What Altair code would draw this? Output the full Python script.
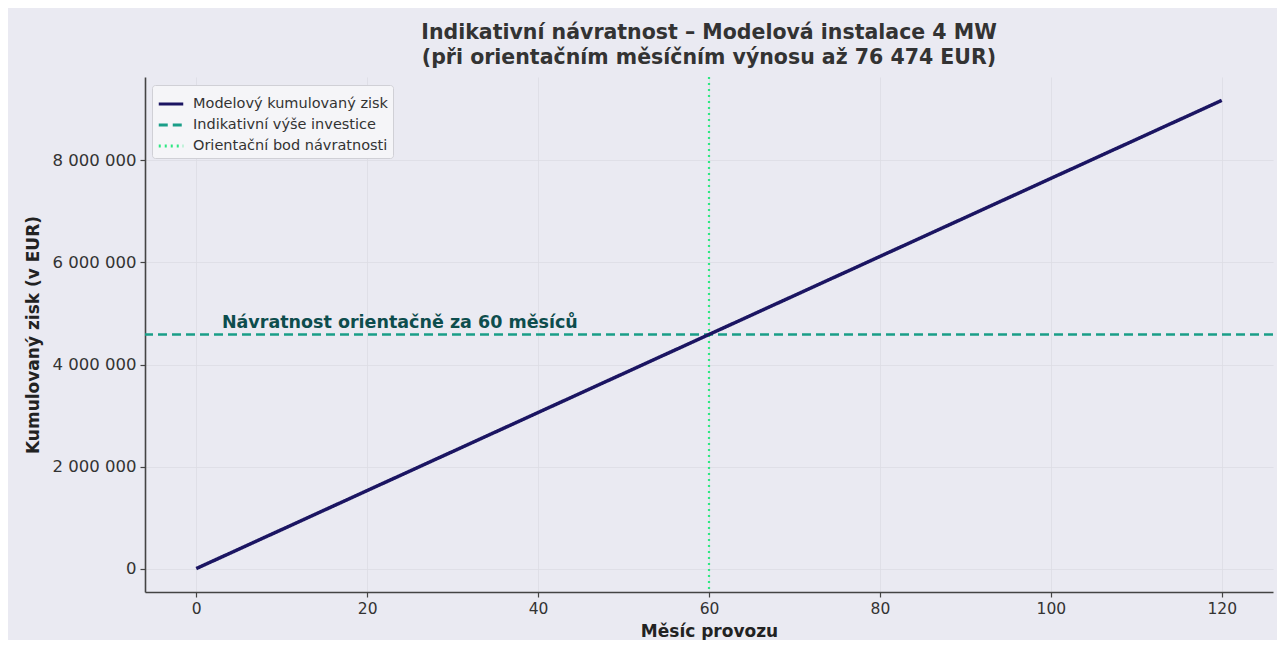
import altair as alt
import pandas as pd

# Data
months = [0, 120]
cum_profit = [0, 9176880]
investment = [4588440]
payback_month = [60]
series_names = ["Modelový kumulovaný zisk", "Indikativní výše investice", "Orientační bod návratnosti"]
series_colors = ["#1b1562", "#1a9e88", "#2ee882"]
series_dashes = [[1, 0], [9, 5], [2, 4]]
annot_text = ["Návratnost orientačně za 60 měsíců"]
annot_x = [3]
annot_y = [4720000]

line_df = pd.DataFrame({"month": months, "value": cum_profit, "series": series_names[0]})
hrule_df = pd.DataFrame({"value": investment, "series": series_names[1]})
vrule_df = pd.DataFrame({"month": payback_month, "series": series_names[2]})
text_df = pd.DataFrame({"month": annot_x, "value": annot_y, "label": annot_text})

xscale = alt.Scale(domain=[-6, 126], nice=False, zero=False)
yscale = alt.Scale(domain=[-458844, 9635724], nice=False, zero=False)

color_scale = alt.Scale(domain=series_names, range=series_colors)
dash_scale = alt.Scale(domain=series_names, range=series_dashes)

legend = alt.Legend(
    title=None, orient="none", legendX=7, legendY=8,
    symbolType="stroke", symbolStrokeWidth=3, symbolSize=600,
    labelFont="DejaVu Sans", labelFontSize=14.5, labelColor="#333333",
    fillColor="#f5f5f8", strokeColor="#d0d0d6", cornerRadius=3,
    padding=5, rowPadding=0, labelOffset=8, labelLimit=400,
)

color_enc = alt.Color("series:N", scale=color_scale, legend=legend, sort=series_names)
dash_enc = alt.StrokeDash("series:N", scale=dash_scale, legend=legend, sort=series_names)

x_axis = alt.Axis(
    title="Měsíc provozu", values=[0, 20, 40, 60, 80, 100, 120],
    titleFont="DejaVu Sans", titleFontSize=17, titleFontWeight="bold", titleColor="#222222",
    titlePadding=7,
    labelFont="DejaVu Sans", labelFontSize=15.5, labelColor="#333333", labelPadding=4,
    grid=True, gridColor="#dcdce3", gridWidth=0.8,
    domain=True, domainColor="#444444", domainWidth=1.6,
    ticks=True, tickColor="#444444", tickSize=5, tickWidth=1.2,
)
y_axis = alt.Axis(
    title="Kumulovaný zisk (v EUR)", values=[0, 2000000, 4000000, 6000000, 8000000],
    labelExpr="replace(format(datum.value, ','), regexp(',', 'g'), ' ')",
    titleFont="DejaVu Sans", titleFontSize=17, titleFontWeight="bold", titleColor="#222222",
    titlePadding=10,
    labelFont="DejaVu Sans", labelFontSize=16.5, labelColor="#333333", labelPadding=4,
    grid=True, gridColor="#dcdce3", gridWidth=0.8,
    domain=True, domainColor="#444444", domainWidth=1.6,
    ticks=True, tickColor="#444444", tickSize=5, tickWidth=1.2,
)

line = alt.Chart(line_df).mark_line(strokeWidth=3.5).encode(
    x=alt.X("month:Q", scale=xscale, axis=x_axis),
    y=alt.Y("value:Q", scale=yscale, axis=y_axis),
    color=color_enc,
    strokeDash=dash_enc,
)

hrule = alt.Chart(hrule_df).mark_rule(strokeWidth=2.5).encode(
    y=alt.Y("value:Q", scale=yscale),
    color=color_enc,
    strokeDash=dash_enc,
)

vrule = alt.Chart(vrule_df).mark_rule(strokeWidth=2.2).encode(
    x=alt.X("month:Q", scale=xscale),
    color=color_enc,
    strokeDash=dash_enc,
)

text = alt.Chart(text_df).mark_text(
    align="left", baseline="alphabetic", font="DejaVu Sans", fontSize=17.5,
    fontWeight="bold", color="#0d4d4d",
).encode(
    x=alt.X("month:Q", scale=xscale),
    y=alt.Y("value:Q", scale=yscale),
    text="label:N",
)

chart = alt.layer(hrule, vrule, line, text).properties(
    width=1128,
    height=515,
    title=alt.TitleParams(
        text=["Indikativní návratnost – Modelová instalace 4 MW",
              "(při orientačním měsíčním výnosu až 76 474 EUR)"],
        font="DejaVu Sans", fontSize=20.5, fontWeight="bold", color="#333333",
        anchor="middle", lineHeight=25, offset=7,
    ),
    autosize=alt.AutoSizeParams(type="none"),
    padding={"left": 137, "top": 69, "right": 4, "bottom": 48},
    background="#eaeaf2",
).configure_view(
    stroke=None, fill="#eaeaf2",
).configure_legend(
    symbolType="stroke",
)

chart.save("out.html", embed_options={"renderer": "svg", "actions": False})
